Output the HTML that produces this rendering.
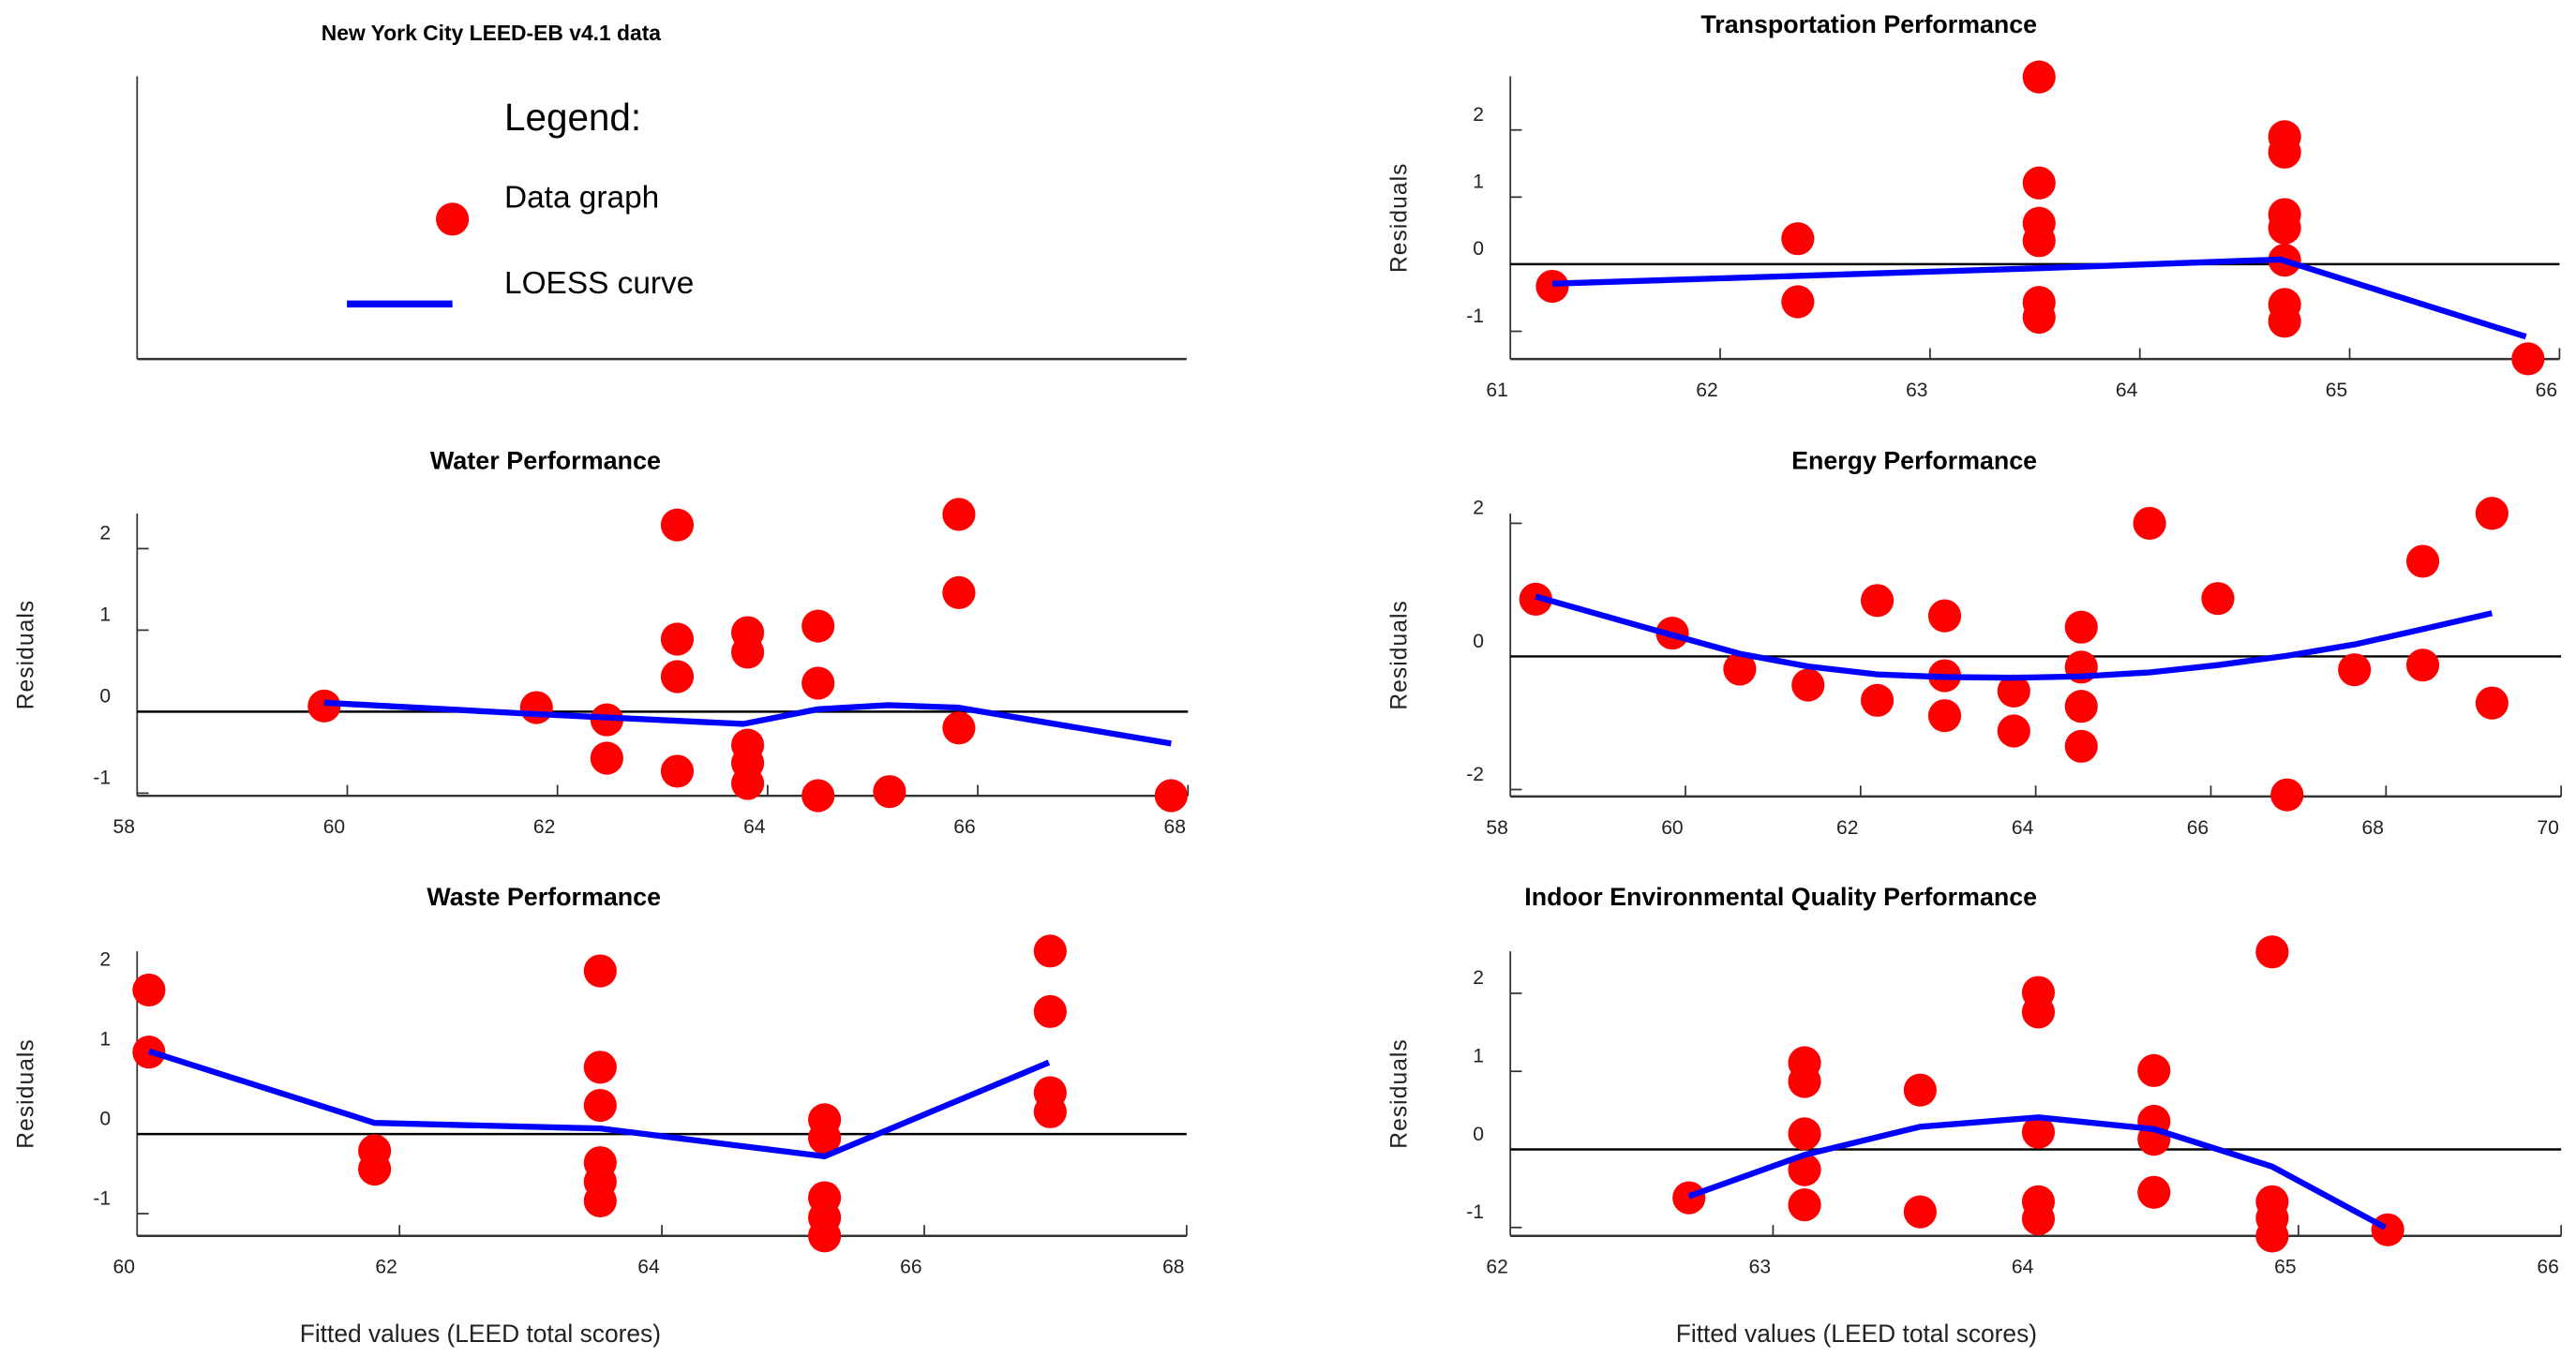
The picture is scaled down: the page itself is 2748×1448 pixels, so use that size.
<!DOCTYPE html>
<html><head><meta charset="utf-8"><title>NYC LEED-EB residual plots</title>
<style>
html,body{margin:0;padding:0;background:#fff;}
svg{display:block;font-family:"Liberation Sans",Arial,sans-serif;}
</style></head>
<body>
<svg id="chart" xmlns="http://www.w3.org/2000/svg" width="2748" height="1448" viewBox="0 0 1563 823.6">
  <rect width="1563" height="823.6" fill="#fff"/>
  <text x="401" y="24.5" text-anchor="end" font-size="13" font-weight="bold">New York City LEED-EB v4.1 data</text>
  <g>
    <line x1="83.2" y1="46.3" x2="83.2" y2="217.9" stroke="#333" stroke-width="1"/>
    <line x1="83.2" y1="217.9" x2="720" y2="217.9" stroke="#333" stroke-width="1.4"/>
    <text x="306" y="79" font-size="23">Legend:</text>
    <circle cx="274.5" cy="133" r="10" fill="#ff0000"/>
    <text x="306" y="126" font-size="19">Data graph</text>
    <line x1="210.5" y1="184.5" x2="274.5" y2="184.5" stroke="#0000ff" stroke-width="4.3"/>
    <text x="306" y="178" font-size="19">LOESS curve</text>
  </g>
  <g id="panels"></g>
</svg>
<script>
// Transportation
const trX = [61.2, 62.37, 62.37, 63.52, 63.52, 63.52, 63.52, 63.52, 63.52, 64.69, 64.69, 64.69, 64.69, 64.69, 64.69, 64.69, 65.85];
const trY = [-0.33, 0.38, -0.56, 2.79, 1.21, 0.61, 0.35, -0.57, -0.79, 1.90, 1.67, 0.74, 0.54, 0.06, -0.60, -0.85, -1.41];
const trLoessX = [61.2, 63.52, 64.67, 65.84];
const trLoessY = [-0.29, -0.06, 0.07, -1.08];
const trXTicks = [61, 62, 63, 64, 65, 66];
const trYTicks = [2, 1, -1];
const trYLabels = [2, 1, 0, -1];
// Water
const waX = [59.78, 61.80, 62.47, 62.47, 63.14, 63.14, 63.14, 63.14, 63.81, 63.81, 63.81, 63.81, 63.81, 64.48, 64.48, 64.48, 65.16, 65.82, 65.82, 65.82, 67.84];
const waY = [0.07, 0.05, -0.10, -0.57, 2.29, 0.89, 0.43, -0.73, 0.97, 0.73, -0.41, -0.63, -0.88, 1.05, 0.35, -1.03, -0.98, 2.42, 1.46, -0.20, -1.03];
const waLoessX = [59.78, 61.8, 63.77, 64.48, 65.15, 65.81, 67.84];
const waLoessY = [0.11, -0.03, -0.15, 0.03, 0.08, 0.05, -0.39];
const waXTicks = [58, 60, 62, 64, 66, 68];
const waYTicks = [2, 1, -1];
const waYLabels = [2, 1, 0, -1];
// Energy
const enX = [58.29, 59.85, 60.62, 61.40, 62.19, 62.19, 62.96, 62.96, 62.96, 63.75, 63.75, 64.52, 64.52, 64.52, 64.52, 65.30, 66.08, 66.87, 67.64, 68.42, 68.42, 69.21, 69.21];
const enY = [0.86, 0.35, -0.19, -0.43, 0.84, -0.66, 0.61, -0.29, -0.89, -0.52, -1.12, 0.44, -0.16, -0.75, -1.35, 2.00, 0.87, -2.08, -0.20, 1.43, -0.13, 2.15, -0.70];
const enLoessX = [58.29, 59.85, 60.62, 61.4, 62.19, 62.96, 63.75, 64.52, 65.3, 66.08, 66.87, 67.64, 68.42, 69.21];
const enLoessY = [0.90, 0.32, 0.04, -0.15, -0.27, -0.31, -0.32, -0.30, -0.24, -0.13, 0.01, 0.18, 0.41, 0.65];
const enXTicks = [58, 60, 62, 64, 66, 68, 70];
const enYTicks = [2, -2];
const enYLabels = [2, 0, -2];
// Waste
const wsX = [60.09, 60.09, 61.81, 61.81, 63.53, 63.53, 63.53, 63.53, 63.53, 63.53, 65.24, 65.24, 65.24, 65.24, 65.24, 66.96, 66.96, 66.96, 66.96];
const wsY = [1.81, 1.03, -0.21, -0.44, 2.05, 0.84, 0.36, -0.36, -0.60, -0.84, 0.18, -0.05, -0.80, -1.05, -1.28, 2.30, 1.54, 0.52, 0.28];
const wsLoessX = [60.09, 61.81, 63.53, 65.24, 66.95];
const wsLoessY = [1.04, 0.14, 0.07, -0.28, 0.90];
const wsXTicks = [60, 62, 64, 66, 68];
const wsYTicks = [-1];
const wsYLabels = [2, 1, 0, -1];
// Indoor Environmental Quality
const ieX = [62.68, 63.12, 63.12, 63.12, 63.12, 63.12, 63.56, 63.56, 64.01, 64.01, 64.01, 64.01, 64.01, 64.45, 64.45, 64.45, 64.45, 64.90, 64.90, 64.90, 64.90, 65.34];
const ieY = [-0.62, 1.11, 0.87, 0.20, -0.26, -0.71, 0.76, -0.80, 2.01, 1.76, 0.22, -0.67, -0.89, 1.01, 0.36, 0.13, -0.55, 2.53, -0.67, -0.88, -1.11, -1.03];
const ieLoessX = [62.68, 63.12, 63.56, 64.01, 64.45, 64.90, 65.33];
const ieLoessY = [-0.60, -0.07, 0.29, 0.41, 0.26, -0.22, -1.00];
const ieXTicks = [62, 63, 64, 65, 66];
const ieYTicks = [2, 1, -1];
const ieYLabels = [2, 1, 0, -1];

const NS = 'http://www.w3.org/2000/svg';
const root = document.getElementById('panels');
function mk(tag, attrs, parent) {
  const e = document.createElementNS(NS, tag);
  for (const k in attrs) e.setAttribute(k, attrs[k]);
  parent.appendChild(e);
  return e;
}
function panel(cfg) {
  const g = mk('g', {}, root);
  
  
  const sx = v => cfg.px0 + (v - cfg.xmin) / (cfg.xmax - cfg.xmin) * (cfg.px1 - cfg.px0);
  const sy = v => cfg.pyB + (v - cfg.ymin) / (cfg.ymax - cfg.ymin) * (cfg.pyT - cfg.pyB);
  const t = mk('text', {x: cfg.titleX, y: cfg.titleY, 'text-anchor': 'end', 'font-size': 15, 'font-weight': 'bold', textLength: cfg.titleW, lengthAdjust: 'spacingAndGlyphs'}, g);
  t.textContent = cfg.title;
  
  
  const ya = mk('line', {x1: cfg.px0, y1: cfg.pyT, x2: cfg.px0, y2: cfg.pyB, stroke: '#333', 'stroke-width': 1}, g);
  
  
  const xa = mk('line', {x1: cfg.px0, y1: cfg.pyB, x2: cfg.px1, y2: cfg.pyB, stroke: '#333', 'stroke-width': 1.4}, g);
  
  
  cfg.xTicks.forEach((v, i) => {
    const x = sx(v);
    if (i > 0) {
      const tk = mk('line', {x1: x, y1: cfg.pyB, x2: x, y2: cfg.pyB - 6.6, stroke: '#333', 'stroke-width': 1}, g);
      
      
    }
    const lb = mk('text', {x: x - 8, y: cfg.pyB + 22.7, 'text-anchor': 'middle', 'font-size': 12, fill: '#222'}, g);
    lb.textContent = v;
    
    
  });
  cfg.yTicks.forEach(v => {
    const y = sy(v);
    const tk = mk('line', {x1: cfg.px0, y1: y, x2: cfg.px0 + 7, y2: y, stroke: '#333', 'stroke-width': 1}, g);
    
    
  });
  cfg.yLabels.forEach(v => {
    const lb = mk('text', {x: cfg.px0 - 16, y: sy(v) - 5.5, 'text-anchor': 'end', 'font-size': 12, fill: '#222'}, g);
    lb.textContent = v;
    
    
  });
  const yt = mk('text', {x: 0, y: 0, 'text-anchor': 'middle', 'font-size': 14, fill: '#222', 'letter-spacing': '0.6',
    transform: 'translate(' + (cfg.px0 - 63) + ',' + ((cfg.pyT + cfg.pyB) / 2) + ') rotate(-90)'}, g);
  yt.textContent = 'Residuals';
  
  
  if (cfg.xTitle) {
    const xt = mk('text', {x: cfg.titleX, y: 814.5, 'text-anchor': 'end', 'font-size': 15, fill: '#222'}, g);
    xt.textContent = 'Fitted values (LEED total scores)';
    
    
  }
  const ref = mk('line', {x1: cfg.px0, y1: sy(0), x2: cfg.px1, y2: sy(0), stroke: '#000', 'stroke-width': 1.4}, g);
  
  
  cfg.xs.forEach((v, i) => {
    const c = mk('circle', {cx: sx(v), cy: sy(cfg.ys[i]), r: 10, fill: '#ff0000'}, g);
    
    
  });
  const d = cfg.lx.map((v, i) => (i ? 'L' : 'M') + sx(v).toFixed(2) + ' ' + sy(cfg.ly[i]).toFixed(2)).join(' ');
  const p = mk('path', {d: d, fill: 'none', stroke: '#0000ff', 'stroke-width': 3.6, 'stroke-linejoin': 'round'}, g);
  
  
}
panel({name: 'transportation', title: 'Transportation Performance', titleX: 1236, titleY: 19.8, titleW: 204,
  px0: 916.4, px1: 1553, xmin: 61, xmax: 66, pyT: 46.3, pyB: 217.9, ymin: -1.413, ymax: 2.80,
  xTicks: trXTicks, yTicks: trYTicks, yLabels: trYLabels, xs: trX, ys: trY, lx: trLoessX, ly: trLoessY});
panel({name: 'water', title: 'Water Performance', titleX: 401, titleY: 284.7, titleW: 140,
  px0: 83.2, px1: 720.8, xmin: 58, xmax: 68, pyT: 311.6, pyB: 483, ymin: -1.032, ymax: 2.432,
  xTicks: waXTicks, yTicks: waYTicks, yLabels: waYLabels, xs: waX, ys: waY, lx: waLoessX, ly: waLoessY});
panel({name: 'energy', title: 'Energy Performance', titleX: 1236, titleY: 284.7, titleW: 149,
  px0: 916.4, px1: 1554, xmin: 58, xmax: 70, pyT: 311.6, pyB: 483.4, ymin: -2.104, ymax: 2.149,
  xTicks: enXTicks, yTicks: enYTicks, yLabels: enYLabels, xs: enX, ys: enY, lx: enLoessX, ly: enLoessY});
panel({name: 'waste', title: 'Waste Performance', titleX: 401, titleY: 549.4, titleW: 142, xTitle: true,
  px0: 83.2, px1: 720, xmin: 60, xmax: 68, pyT: 577.4, pyB: 750.1, ymin: -1.28, ymax: 2.296,
  xTicks: wsXTicks, yTicks: wsYTicks, yLabels: wsYLabels, xs: wsX, ys: wsY, lx: wsLoessX, ly: wsLoessY});
panel({name: 'indoor-environmental-quality', title: 'Indoor Environmental Quality Performance', titleX: 1236, titleY: 549.4, titleW: 311, xTitle: true,
  px0: 916.4, px1: 1554, xmin: 62, xmax: 66, pyT: 577.4, pyB: 750.1, ymin: -1.108, ymax: 2.537,
  xTicks: ieXTicks, yTicks: ieYTicks, yLabels: ieYLabels, xs: ieX, ys: ieY, lx: ieLoessX, ly: ieLoessY});
</script>
</body></html>
